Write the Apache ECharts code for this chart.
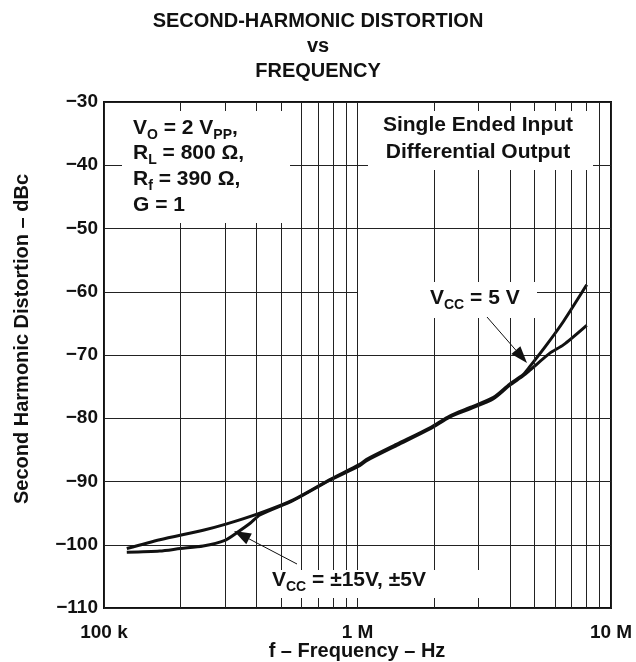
<!DOCTYPE html>
<html><head><meta charset="utf-8">
<script src="https://cdn.jsdelivr.net/npm/echarts@6/dist/echarts.min.js"></script>
<style>html,body{margin:0;padding:0;background:#fff}#c{width:636px;height:662px}</style>
</head><body><div id="c"></div>
<script>
// ---- data ----
const yTicks = [-110,-100,-90,-80,-70,-60,-50,-40,-30];
const xTickLabels = {100000:'100 k', 1000000:'1 M', 10000000:'10 M'};
const minorFreqs = [2e5,3e5,4e5,5e5,6e5,7e5,8e5,9e5,2e6,3e6,4e6,5e6,6e6,7e6,8e6,9e6];
// VCC = ±15V, ±5V
const freqA = [123e3,166e3,200e3,246e3,300e3,334e3,377e3,412e3,558e3,778e3,1.02e6,1.087e6,1.43e6,1.93e6,2.32e6,2.78e6,3.44e6,3.98e6,4.5e6,4.79e6,5.74e6,6.49e6,8.02e6];
const valA  = [-101.2,-101.0,-100.6,-100.2,-99.3,-98.1,-96.6,-95.3,-93.0,-89.8,-87.5,-86.7,-84.3,-81.7,-79.8,-78.5,-76.9,-74.8,-73.3,-72.4,-69.7,-68.4,-65.3];
// VCC = 5 V
const freqB = [123e3,166e3,246e3,305e3,412e3,558e3,778e3,1.02e6,1.087e6,1.43e6,1.93e6,2.32e6,2.78e6,3.44e6,3.98e6,4.5e6,4.79e6,5.57e6,6.49e6,8.02e6];
const valB  = [-100.6,-99.2,-97.7,-96.7,-95.0,-92.9,-89.7,-87.3,-86.5,-84.1,-81.5,-79.6,-78.3,-76.7,-74.6,-73.1,-71.8,-68.4,-64.7,-58.9];

const FONT = '"Liberation Sans", Arial, Helvetica, sans-serif';
const chart = echarts.init(document.getElementById('c'), null, {renderer:'canvas'});

function zip(a,b){return a.map((v,i)=>[v,b[i]]);}
const richBase = {
  a:{fontFamily:FONT,fontWeight:'bold',fontSize:21,lineHeight:28,verticalAlign:'middle',color:'#111'},
  s:{fontFamily:FONT,fontWeight:'bold',fontSize:14,lineHeight:18,verticalAlign:'bottom',color:'#111'}
};
function rtext(x,y,txt,align){
  return {type:'text',x:x,y:y,z:60,style:{text:txt,rich:richBase,align:align||'left',verticalAlign:'middle',fill:'#111'}};
}
function rect(x,y,w,h){return {type:'rect',z:50,shape:{x:x,y:y,width:w,height:h},style:{fill:'#fff'}};}
function arrow(x1,y1,x2,y2){
  const dx=x2-x1, dy=y2-y1, L=Math.hypot(dx,dy), ux=dx/L, uy=dy/L, nx=-uy, ny=ux;
  const hl=17, hw=6;
  const bx=x2-ux*hl, by=y2-uy*hl;
  return [
    {type:'line',z:70,shape:{x1:x1,y1:y1,x2:bx,y2:by},style:{stroke:'#111',lineWidth:1}},
    {type:'polygon',z:70,shape:{points:[[x2,y2],[bx+nx*hw,by+ny*hw],[bx-nx*hw,by-ny*hw]]},style:{fill:'#111'}}
  ];
}

const option = {
  animation:false,
  backgroundColor:'#fff',
  title:{text:'SECOND-HARMONIC DISTORTION\nvs\nFREQUENCY',left:'center',top:4,
    textStyle:{fontFamily:FONT,fontWeight:'bold',fontSize:20,lineHeight:25,color:'#111'}},
  grid:{left:104,top:102,right:25,bottom:54,show:true,borderColor:'#111',borderWidth:2,backgroundColor:'transparent'},
  xAxis:{type:'log',logBase:10,min:1e5,max:1e7,
    axisLine:{show:false},axisTick:{show:false},
    axisLabel:{margin:15,fontFamily:FONT,fontWeight:'bold',fontSize:19,color:'#111',
      formatter:v=>xTickLabels[Math.round(v)]||''},
    splitLine:{show:true,lineStyle:{color:'#222',width:1}}},
  yAxis:{type:'value',min:yTicks[0],max:yTicks[yTicks.length-1],interval:10,
    axisLine:{show:false},axisTick:{show:false},
    axisLabel:{margin:6,fontFamily:FONT,fontWeight:'bold',fontSize:19,color:'#111',
      formatter:v=>String(v).replace('-','\u2212')},
    splitLine:{show:true,lineStyle:{color:'#222',width:1}}},
  series:[
    {type:'line',name:'VCC = ±15V, ±5V',data:zip(freqA,valA),showSymbol:false,smooth:0.25,
     lineStyle:{color:'#111',width:3},z:3,
     markLine:{silent:true,symbol:['none','none'],label:{show:false},animation:false,
       lineStyle:{color:'#222',width:1,type:'solid'},
       data:minorFreqs.map(f=>({xAxis:f}))}},
    {type:'line',name:'VCC = 5 V',data:zip(freqB,valB),showSymbol:false,smooth:0.25,
     lineStyle:{color:'#111',width:3},z:3}
  ],
  graphic:[
    rect(122,111,168,112),
    rect(368,111,225,59),
    rect(358,282,179,36),
    rect(265,570,220,28),
    rtext(133,128,'{a|V}{s|O}{a| = 2 V}{s|PP}{a|,}'),
    rtext(133,153,'{a|R}{s|L}{a| = 800 Ω,}'),
    rtext(133,179,'{a|R}{s|f}{a| = 390 Ω,}'),
    rtext(133,205,'{a|G = 1}'),
    rtext(478,125,'{a|Single Ended Input}','center'),
    rtext(478,152,'{a|Differential Output}','center'),
    rtext(430,298,'{a|V}{s|CC}{a| = 5 V}'),
    rtext(272,580,'{a|V}{s|CC}{a| = ±15V, ±5V}'),
    {type:'text',x:22,y:339,z:60,rotation:Math.PI/2,
      style:{text:'Second Harmonic Distortion – dBc',fontFamily:FONT,fontWeight:'bold',fontSize:20,
        fill:'#111',align:'center',verticalAlign:'middle'}},
    {type:'text',x:357,y:651,z:60,
      style:{text:'f – Frequency – Hz',fontFamily:FONT,fontWeight:'bold',fontSize:20,
        fill:'#111',align:'center',verticalAlign:'middle'}},
    ...arrow(487,317,527,363),
    ...arrow(297,564,234,531)
  ]
};
chart.setOption(option);
</script></body></html>
